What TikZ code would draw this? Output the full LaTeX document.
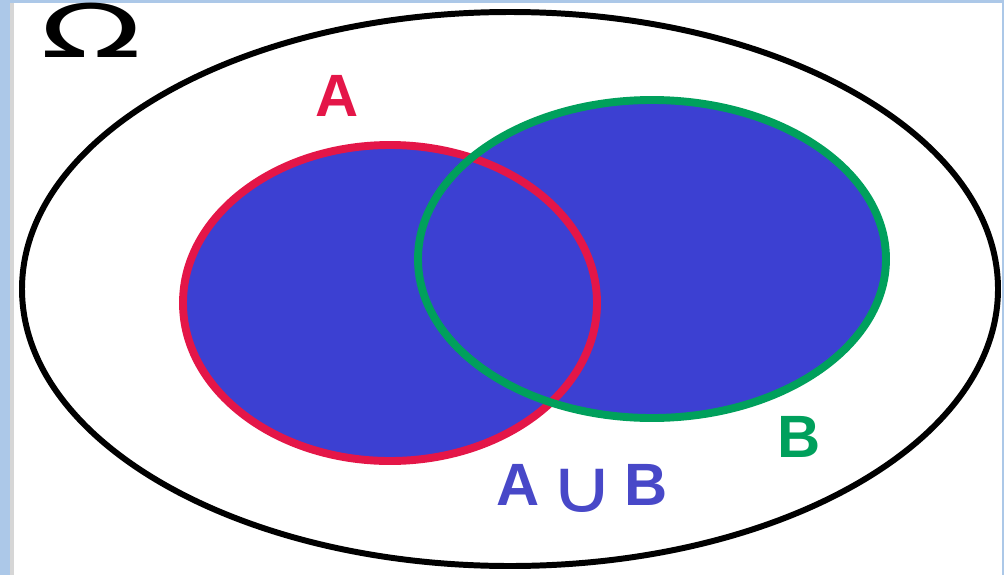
\documentclass[tikz,border=0pt]{standalone}
\usepackage{fontspec}
\setmainfont{Liberation Sans}
\newfontfamily\symfont{DejaVu Sans}
\usepackage{xcolor}
\usepackage{tikz}
\usetikzlibrary{positioning}
\definecolor{framebg}{RGB}{172, 200, 232}
\definecolor{frameline}{RGB}{214, 214, 214}
\definecolor{setblue}{RGB}{60, 64, 210}
\definecolor{setred}{RGB}{228, 22, 72}
\definecolor{setgreen}{RGB}{0, 160, 92}
\definecolor{unionblue}{RGB}{72, 72, 200}

\begin{document}
\begin{tikzpicture}[x=0.02cm, y=-0.02cm, label font/.style={font=\fontsize{34}{40}\selectfont\bfseries}]
        % Frame and page
        \fill[framebg] (0, 0) rectangle (1004, 575);
        \fill[frameline] (10, 3) rectangle (14, 575);
        \fill[white] (14, 3) rectangle (1002, 575);
        \useasboundingbox (0, 0) rectangle (1004, 575);

        % Universal set
        \draw[line width=3.4pt, black] (510, 289) ellipse [x radius=488, y radius=277];
        \node[font=\fontsize{42}{46}\selectfont\symfont, inner sep=0pt] (omega) at (91, 30) {\scalebox{1.8}[1]{Ω}};

        % Sets A and B, filled
        \fill[setblue] (390, 303) ellipse [x radius=207, y radius=158];
        \fill[setblue] (652, 259) ellipse [x radius=234, y radius=159];
        \draw[setred, line width=4.5pt] (390, 303) ellipse [x radius=207, y radius=158];
        \draw[setgreen, line width=4.5pt] (652, 259) ellipse [x radius=234, y radius=159];

        % Labels
        \node[label font, text=setred] (labA) at (337, 96) {A};
        \node[label font, text=setgreen] (labB) at (799, 437) {B};
        \node[label font, text=unionblue] (labAB) at (582, 488) {A\,{\symfont\mdseries\raisebox{-0.14cm}{\scalebox{1.5}[1.25]{∪}}}\,B};
    \end{tikzpicture}
\end{document}
